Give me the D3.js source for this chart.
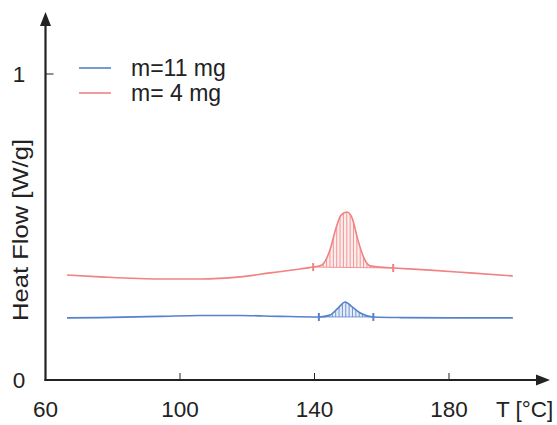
<!DOCTYPE html>
<html>
<head>
<meta charset="utf-8">
<script src="https://cdn.jsdelivr.net/npm/d3@7"></script>
<style>
  body { margin: 0; background: #fff; }
  text { font-family: "Liberation Sans", Arial, sans-serif; fill: #222; }
</style>
</head>
<body>
<div class="chart"></div>
<script>
// temperatures (°C) and heat flow (W/g)
const tRed = [66.4, 76.2, 94.1, 106, 117.8, 126.8, 135.7, 139.6, 142.2, 144.6, 146.4, 147.9, 149.7, 151.2, 152.9, 154.7, 156.5, 159.5, 163.4, 174.4, 186.2, 199];
const hfRed = [0.343, 0.337, 0.330, 0.330, 0.337, 0.350, 0.363, 0.369, 0.376, 0.425, 0.497, 0.539, 0.549, 0.529, 0.458, 0.399, 0.373, 0.369, 0.366, 0.359, 0.350, 0.340];
const tBlue = [66.4, 76.2, 94.1, 106, 117.8, 129.7, 141.3, 144.6, 147, 149.1, 151.2, 153.6, 157.5, 165.5, 180.4, 199];
const hfBlue = [0.203, 0.204, 0.208, 0.211, 0.211, 0.208, 0.206, 0.212, 0.235, 0.255, 0.239, 0.219, 0.206, 0.204, 0.203, 0.203];
// integration limits (°C)
const limRed = [139.6, 163.4];
const limBlue = [141.3, 157.5];
const series = ["m=11 mg", "m= 4 mg"];
const xTicks = [60, 100, 140, 180];
const yTicks = [0, 1];

const width = 557, height = 425;
const svg = d3.select(".chart").append("svg")
  .attr("width", width).attr("height", height);

const x = d3.scaleLinear().domain([60, 180]).range([45.5, 449]);
const y = d3.scaleLinear().domain([0, 1]).range([380, 74]);

const red = "#f08282", blue = "#5682cb";

const defs = svg.append("defs");
const line = d3.line().x(d => x(d[0])).y(d => y(d[1])).curve(d3.curveMonotoneX);

function drawSeries(ts, hs, lim, color, id) {
  const pts = ts.map((t, i) => [t, hs[i]]);
  const v0 = hs[ts.indexOf(lim[0])], v1 = hs[ts.indexOf(lim[1])];
  const base = t => v0 + (v1 - v0) * (t - lim[0]) / (lim[1] - lim[0]);
  const inside = pts.filter(d => d[0] >= lim[0] && d[0] <= lim[1]);
  const area = d3.area().x(d => x(d[0])).y0(d => y(base(d[0]))).y1(d => y(d[1]))
    .curve(d3.curveMonotoneX);

  defs.append("clipPath").attr("id", "clip_" + id)
    .append("path").attr("d", area(inside));

  const g = svg.append("g");
  g.append("path").attr("d", area(inside))
    .attr("fill", color).attr("fill-opacity", 0.15);
  g.append("g").attr("clip-path", `url(#clip_${id})`)
    .selectAll("line").data(d3.range(lim[0], lim[1], 1))
    .join("line")
      .attr("x1", d => x(d)).attr("x2", d => x(d))
      .attr("y1", y(0.2)).attr("y2", y(0.6))
      .attr("stroke", color).attr("stroke-width", 0.8);
  g.append("line")
    .attr("x1", x(lim[0])).attr("x2", x(lim[1]))
    .attr("y1", y(v0)).attr("y2", y(v1))
    .attr("stroke", color).attr("stroke-width", 0.8);
  g.append("path").attr("d", line(pts))
    .attr("fill", "none").attr("stroke", color).attr("stroke-width", 1.6);
  g.selectAll(".lim").data([[lim[0], v0], [lim[1], v1]])
    .join("line")
      .attr("x1", d => x(d[0])).attr("x2", d => x(d[0]))
      .attr("y1", d => y(d[1]) - 4).attr("y2", d => y(d[1]) + 4)
      .attr("stroke", color).attr("stroke-width", 2);
}

drawSeries(tRed, hfRed, limRed, red, "red");
drawSeries(tBlue, hfBlue, limBlue, blue, "blue");

// axes with arrows
const axisColor = "#222";
const x0 = x(60);
svg.append("line").attr("x1", x0).attr("x2", x0).attr("y1", 381).attr("y2", 24)
  .attr("stroke", axisColor).attr("stroke-width", 2.2);
svg.append("path").attr("d", `M${x0},12 L${x0 - 5.5},26 L${x0 + 5.5},26 Z`).attr("fill", axisColor);
svg.append("line").attr("x1", x0 - 1).attr("x2", 538).attr("y1", 380).attr("y2", 380)
  .attr("stroke", axisColor).attr("stroke-width", 2.2);
svg.append("path").attr("d", "M550,380 L536,374.5 L536,385.5 Z").attr("fill", axisColor);

svg.selectAll(".xt").data(xTicks.slice(1)).join("line")
  .attr("x1", d => x(d)).attr("x2", d => x(d)).attr("y1", 380).attr("y2", 373)
  .attr("stroke", axisColor).attr("stroke-width", 1);
svg.selectAll(".xl").data(xTicks).join("text")
  .attr("x", d => x(d)).attr("y", 417).attr("text-anchor", "middle")
  .attr("font-size", 22.5).text(d => d);
svg.selectAll(".yt").data(yTicks.slice(1)).join("line")
  .attr("x1", x0).attr("x2", x0 + 8).attr("y1", d => y(d)).attr("y2", d => y(d))
  .attr("stroke", axisColor).attr("stroke-width", 1);
svg.selectAll(".yl").data(yTicks).join("text")
  .attr("x", 19).attr("y", d => y(d) + 8).attr("text-anchor", "middle")
  .attr("font-size", 22.5).text(d => d);

svg.append("text").attr("x", 496).attr("y", 417).attr("font-size", 22.5).text("T [°C]");
svg.append("text")
  .attr("transform", "translate(28,230) rotate(-90)")
  .attr("text-anchor", "middle").attr("font-size", 22.5)
  .attr("textLength", 182).attr("lengthAdjust", "spacingAndGlyphs")
  .text("Heat Flow [W/g]");

// legend
const legend = svg.append("g").selectAll("g").data(series).join("g")
  .attr("transform", (d, i) => `translate(0, ${68 + i * 25})`);
legend.append("line").attr("x1", 79).attr("x2", 111)
  .attr("stroke", (d, i) => i ? red : blue).attr("stroke-width", 1.6);
legend.append("text").attr("x", 131).attr("y", 7.5).attr("font-size", 23).text(d => d);
</script>
</body>
</html>
